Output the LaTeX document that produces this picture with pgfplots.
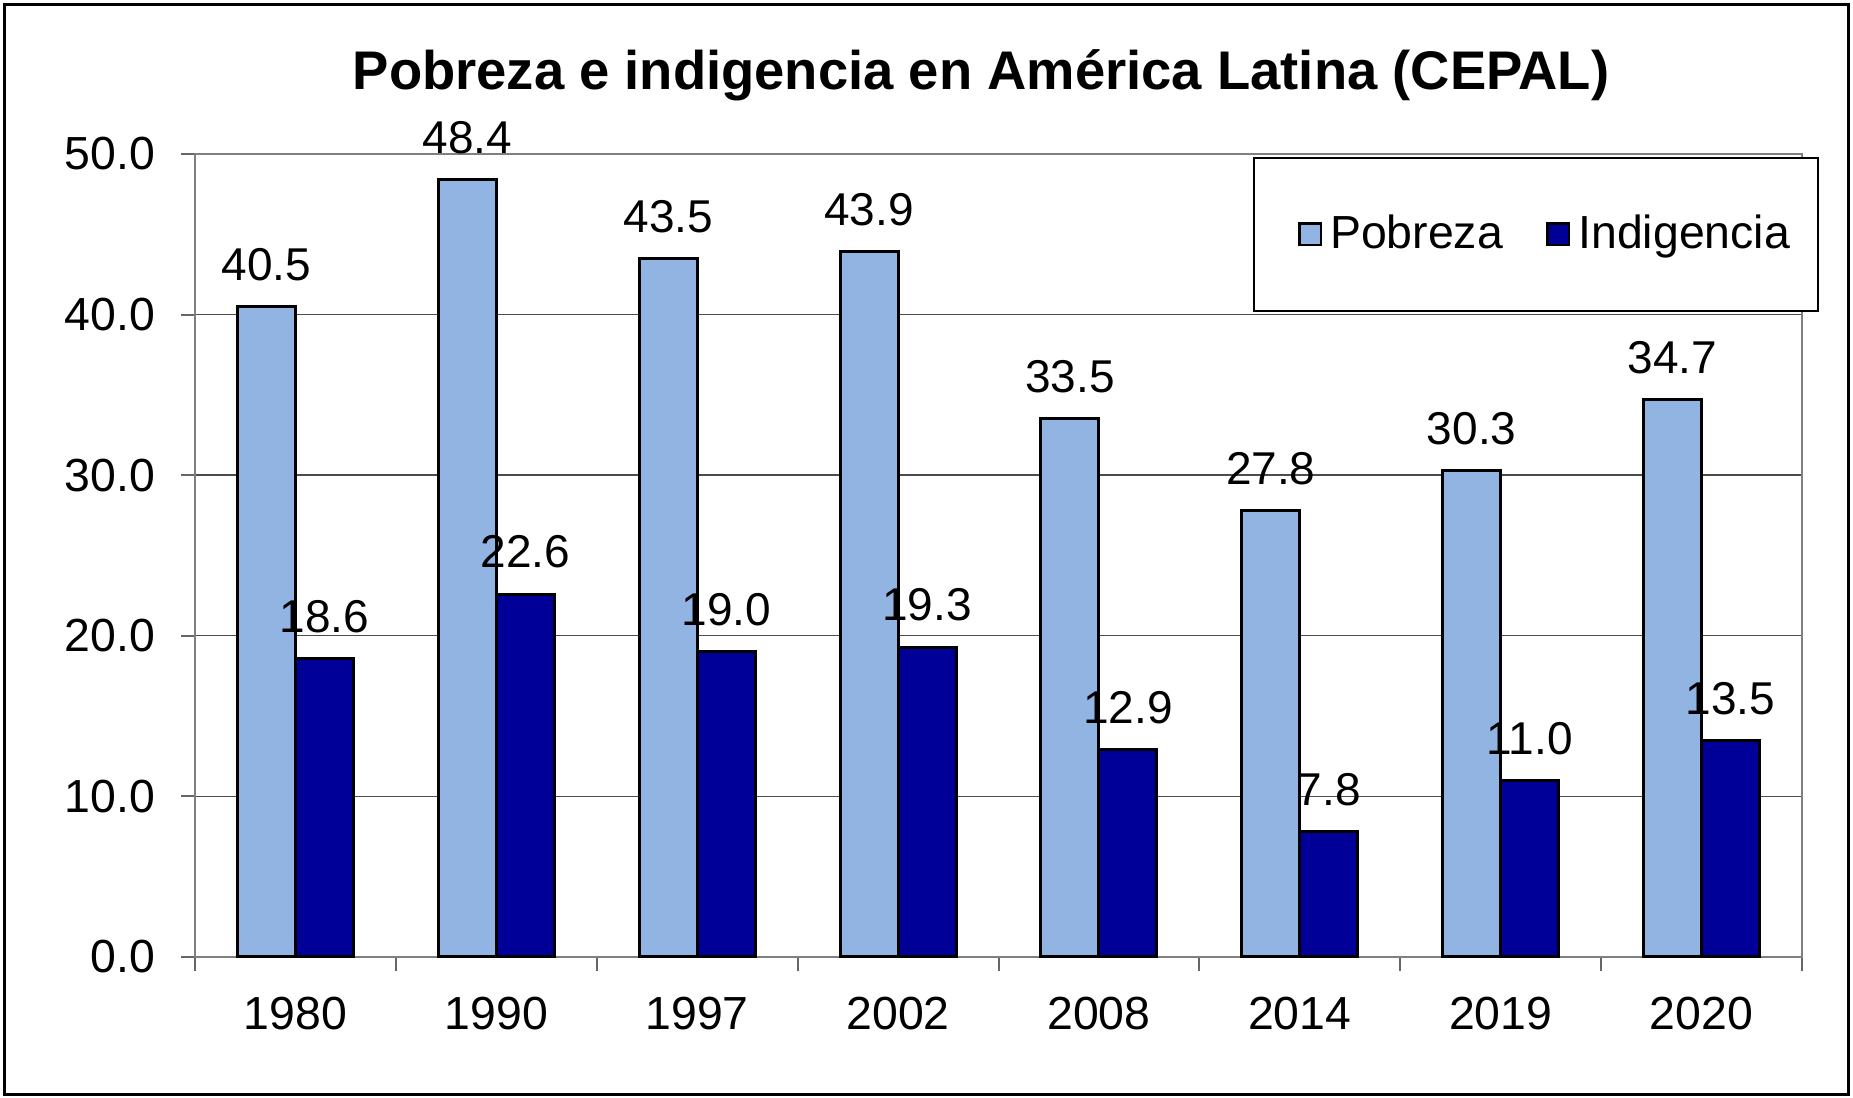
\documentclass[border=0pt]{standalone}
\usepackage{pgfplots}
\pgfplotsset{compat=1.18}
\usepackage{fontspec}
\setmainfont{Liberation Sans}
\definecolor{pob}{RGB}{145,180,226}
\definecolor{ind}{RGB}{0,0,153}
\begin{document}
\begin{tikzpicture}
\path[use as bounding box] (0pt,0pt) rectangle (463.25pt,274.5pt);
\draw[line width=0.75pt] (1.2pt,0.8pt) rectangle (462pt,273.4pt);
\node[anchor=base, font=\fontsize{13.6}{16}\selectfont\bfseries, inner sep=0pt] at (245.25pt,252.2pt) {Pobreza e indigencia en América Latina (CEPAL)};
\begin{axis}[
  at={(48.75pt,35.25pt)}, anchor=south west,
  scale only axis, width=401.75pt, height=200.75pt,
  xmin=-0.5, xmax=7.5, ymin=0, ymax=50,
  ybar=0pt, bar width=14.5pt,
  clip=false,
  xtick={0,...,7},
  xticklabels={1980,1990,1997,2002,2008,2014,2019,2020},
  minor xtick={-0.5,0.5,...,7.5},
  major x tick style={draw=none},
  ytick={0,10,...,50},
  tick align=outside,
  major tick length=3.5pt, minor tick length=3.5pt,
  xtick pos=lower, ytick pos=left,
  ymajorgrids, grid style={black!70, line width=0.35pt},
  axis line style={black!50, line width=0.5pt},
  tick style={black!60, line width=0.5pt},
  /pgf/number format/assume math mode=true,
  yticklabel style={/pgf/number format/.cd, fixed, fixed zerofill, precision=1, /tikz/.cd, xshift=-3pt},
  xticklabel style={yshift=-3pt},
  tick label style={font=\fontsize{11.6}{13}\selectfont},
  nodes near coords={\pgfmathprintnumber[fixed,fixed zerofill,precision=1,assume math mode=true]{\pgfplotspointmeta}},
  nodes near coords style={font=\fontsize{11.5}{13}\selectfont, yshift=2.7pt, text=black},
  legend style={at={(0.6584,0.9963)}, anchor=north west, draw=black, line width=0.4pt, fill=white,
    font=\fontsize{11.6}{13}\selectfont, inner xsep=5pt, inner ysep=12.2pt,
    /tikz/every even column/.append style={column sep=2.8pt}},
  legend columns=2,
  legend image code/.code={\path (0pt,0pt); \draw[#1, line width=0.6pt, draw=black] (6pt,-2.7pt) rectangle (11.4pt,2.7pt);},
]
\addplot[fill=pob, draw=black, line width=0.75pt] coordinates {(0,40.5) (1,48.4) (2,43.5) (3,43.9) (4,33.5) (5,27.8) (6,30.3) (7,34.7)};
\addplot[fill=ind, draw=black, line width=0.75pt] coordinates {(0,18.6) (1,22.6) (2,19.0) (3,19.3) (4,12.9) (5,7.8) (6,11.0) (7,13.5)};
\legend{Pobreza,Indigencia}
\end{axis}
\end{tikzpicture}
\end{document}
